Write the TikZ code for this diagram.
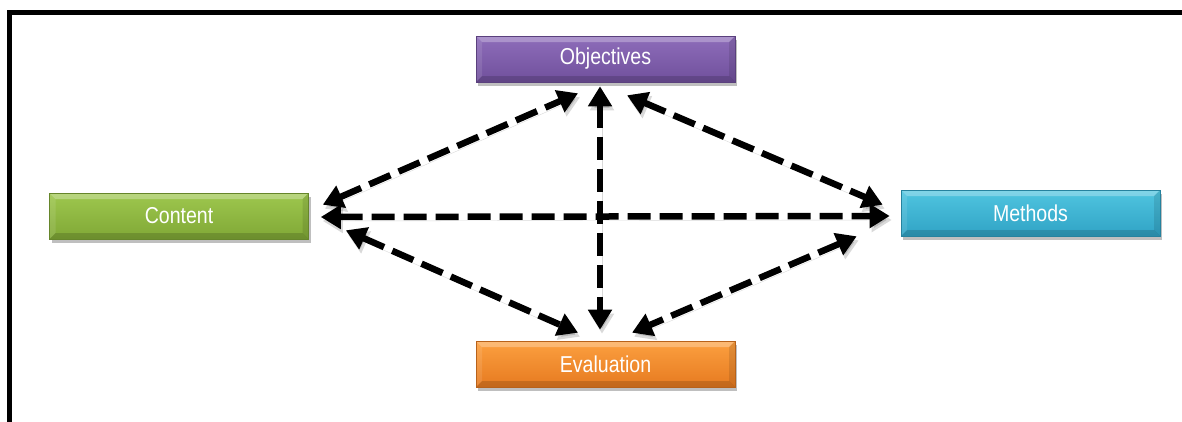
\documentclass[tikz,border=0pt]{standalone}
\usepackage{fontspec}
\newfontfamily\labelfont[FakeStretch=0.85]{Liberation Sans}
\usetikzlibrary{arrows.meta,shadows}

\definecolor{objTop}{HTML}{8E6DBA}
\definecolor{objBot}{HTML}{70509C}
\definecolor{conTop}{HTML}{9EC74E}
\definecolor{conBot}{HTML}{80A836}
\definecolor{metTop}{HTML}{50C5E0}
\definecolor{metBot}{HTML}{30A3C5}
\definecolor{evaTop}{HTML}{FCA040}
\definecolor{evaBot}{HTML}{E67A20}

\tikzset{
  box/.style 2 args={
    minimum width=259pt, minimum height=46pt, inner sep=0pt,
    top color=#1, bottom color=#2, draw=#2!80!black, line width=0.6pt,
    drop shadow={shadow xshift=2pt, shadow yshift=-4pt, opacity=0.25, fill=black},
    font=\labelfont\fontsize{23}{27}\selectfont, text=white,
    path picture={
      \path (path picture bounding box.north west) coordinate (bnw)
            (path picture bounding box.south east) coordinate (bse)
            (bnw -| bse) coordinate (bne)
            (bnw |- bse) coordinate (bsw);
      % bevelled rims: light top and left, dark bottom and right
      \fill[white,opacity=0.28] (bnw) -- (bne) -- ([shift={(-6,6)}]bne) -- ([shift={(6,6)}]bnw) -- cycle;
      \fill[white,opacity=0.10] (bnw) -- (bsw) -- ([shift={(6,-6)}]bsw) -- ([shift={(6,6)}]bnw) -- cycle;
      \fill[black,opacity=0.15] (bsw) -- (bse) -- ([shift={(-6,-6)}]bse) -- ([shift={(6,-6)}]bsw) -- cycle;
      \fill[black,opacity=0.10] (bne) -- (bse) -- ([shift={(-6,-6)}]bse) -- ([shift={(-6,6)}]bne) -- cycle;
    }
  },
  link/.style={
    line width=6.5pt, dash pattern=on 23pt off 9pt,
    {Triangle[length=20pt,width=23pt]}-{Triangle[length=20pt,width=23pt]},
    preaction={draw=black, opacity=0.15, transform canvas={xshift=2pt,yshift=-4pt}}
  },
  frame/.style={line width=5pt, black}
}

\begin{document}
\begin{tikzpicture}[x=1pt,y=-1pt]
  \useasboundingbox (0,0) rectangle (1182,421);
  \clip (0,0) rectangle (1182,421);

  % outer frame, running off the right and bottom edges
  \draw[frame] (9.5,440) -- (9.5,12) -- (1200,12);

  % the four boxes
  \node[box={objTop}{objBot}] (obj) at (605.5,59)  {Objectives};
  \node[box={conTop}{conBot}] (con) at (179,216)   {Content};
  \node[box={metTop}{metBot}] (met) at (1030.5,213) {Methods};
  \node[box={evaTop}{evaBot}] (eva) at (605.5,364) {Evaluation};

  % two-way links between every pair of boxes
  \draw[link] ([shift={(14,12)}]con.north east) -- ([shift={(-27.5,11)}]obj.south);
  \draw[link] ([shift={(21.5,13)}]obj.south) -- ([shift={(-18,15)}]met.north west);
  \draw[link] ([shift={(12,1)}]con.east) -- ([shift={(-11,3)}]met.west);
  \draw[link] ([shift={(-5.5,4)}]obj.south) -- ([shift={(-5.5,-11)}]eva.north);
  \draw[link] ([shift={(37,-9)}]con.south east) -- ([shift={(-27.5,-8)}]eva.north);
  \draw[link] ([shift={(-44,0)}]met.south west) -- ([shift={(26.5,-8)}]eva.north);
\end{tikzpicture}
\end{document}
